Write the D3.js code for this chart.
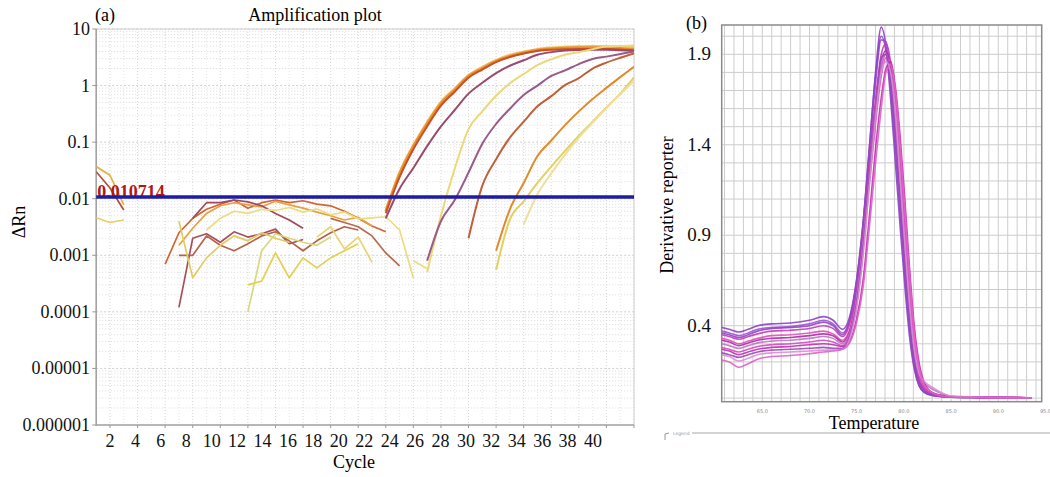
<!DOCTYPE html>
<html lang="en">
<head>
<meta charset="UTF-8">
<title>Amplification plot and melt curve</title>
<script src="https://d3js.org/d3.v7.min.js"></script>
<style>
  body { margin: 0; background: #fff; }
  svg { display: block; font-family: "Liberation Serif", "Times New Roman", serif; }
</style>
</head>
<body>
<svg width="1050" height="477"></svg>
<script>
// ---------- (a) amplification plot ----------
const cycleTicks = [2, 4, 6, 8, 10, 12, 14, 16, 18, 20, 22, 24, 26, 28, 30, 32, 34, 36, 38, 40];
const decadeTicks = [10, 1, 0.1, 0.01, 0.001, 0.0001, 0.00001, 0.000001];
const decadeLabels = ["10", "1", "0.1", "0.01", "0.001", "0.0001", "0.00001", "0.000001"];
const threshold = 0.010714;

// each trace: first cycle, then ΔRn per cycle
const ampStart = [22, 22, 22, 22, 25, 25, 28, 30, 30, 32];
const ampValues = [
  [0.0062, 0.03, 0.09, 0.23, 0.52, 0.9, 1.55, 2.15, 2.85, 3.5, 4.0, 4.45, 4.7, 4.85, 4.95, 5.0, 4.98, 4.9, 4.8],
  [0.006, 0.027, 0.083, 0.21, 0.48, 0.83, 1.46, 2.0, 2.7, 3.3, 3.8, 4.25, 4.45, 4.6, 4.68, 4.7, 4.68, 4.55, 4.35],
  [0.0055, 0.024, 0.075, 0.19, 0.44, 0.78, 1.38, 1.92, 2.6, 3.2, 3.7, 4.1, 4.3, 4.4, 4.45, 4.45, 4.42, 4.35, 4.2],
  [0.0045, 0.015, 0.035, 0.085, 0.19, 0.37, 0.72, 1.12, 1.66, 2.24, 2.8, 3.5, 3.9, 4.15, 4.25, 4.3, 4.3, 4.2, 4.1],
  [0.0005, 0.005, 0.034, 0.17, 0.35, 0.66, 1.1, 1.6, 2.3, 2.9, 3.5, 3.9, 4.4, 4.9, 5.0, 5.1],
  [0.0008, 0.004, 0.0095, 0.029, 0.094, 0.21, 0.39, 0.68, 1.0, 1.48, 1.86, 2.4, 2.95, 3.25, 3.6, 4.0],
  [0.002, 0.017, 0.05, 0.12, 0.23, 0.43, 0.65, 1.02, 1.35, 2.0, 2.55, 3.1, 3.7],
  [0.0012, 0.0065, 0.019, 0.057, 0.107, 0.2, 0.35, 0.58, 0.91, 1.41, 2.15],
  [0.00055, 0.0043, 0.009, 0.019, 0.037, 0.07, 0.13, 0.23, 0.41, 0.72, 1.4],
  [0.0035, 0.012, 0.028, 0.06, 0.12, 0.22, 0.4, 0.7, 1.2]
];
const ampColors = ["#f0c060", "#e8902a", "#c8502a", "#9a4a6e", "#ecd878", "#9a5a8a", "#c0603a", "#e08a2a", "#e4d060", "#eee09a"];

// baseline noise below threshold (broken where ΔRn <= 0)
const noiseStart = [6, 7, 8, 7, 7, 7, 12, 12, 9, 24, 17, 18, 1, 1, 1];
const noiseValues = [
  [0.0007, 0.0025, 0.0045, 0.0065, 0.008, 0.0095, 0.0068, 0.0085, 0.0095, 0.0085, 0.0092, 0.008, 0.0075, 0.006, 0.0045, 0.0033, 0.0026],
  [0.0015, 0.003, 0.0055, 0.0075, 0.0085, 0.0078, 0.0072, 0.009, 0.0078, 0.0068, 0.0058, 0.005, 0.0042, 0.0047, 0.0033],
  [0.0045, 0.0085, 0.0085, 0.0095, 0.0088, 0.0075, 0.0055, 0.0042, 0.003],
  [0.00012, 0.002, 0.0024, 0.0017, 0.0026, 0.0021, 0.0024, 0.0029, 0.0016, 0.0019],
  [0.001, 0.001, 0.0022, 0.0015, 0.0012, 0.0016, 0.0022, 0.0026, 0.0018, 0.0012, 0.0018, 0.0025, 0.0032, 0.0028],
  [0.004, 0.0004, 0.0009, 0.0015, 0.0022, 0.0018, 0.0025, 0.002, 0.0017],
  [0.0001, 0.0012, 0.0024, 0.002, 0.0017, 0.0015, 0.0021],
  [0.0003, 0.00035, 0.0011, 0.0004, 0.0009, 0.0006, 0.0009, 0.0012, 0.0016],
  [0.0028, 0.0045, 0.006, 0.0055, 0.0065, 0.0062, 0.007, 0.0058, 0.0066, 0.0052, 0.0058, 0.0044, 0.0046, 0.0048, 0.0028, 0.0004],
  [0.0008, 0.00058],
  [0.0021, 0.0032, 0.0013, 0.0021, 0.00075],
  [0.0045, 0.0038, 0.0032, 0.0022, 0.0011, 0.00065],
  [0.037, 0.026, 0.0078],
  [0.03, 0.0155, 0.0063],
  [0.0046, 0.0038, 0.0042]
];
const noiseColors = ["#d4652e", "#e8a040", "#a04a5a", "#a8505a", "#b8604a", "#e0cc60", "#d8d880", "#e4d050", "#ecdc80", "#ecdc80", "#e8d470", "#b86a50", "#e8b040", "#b05040", "#e8d060"];

// ---------- (b) melt curve ----------
const meltTemps = [60.7, 61.5, 62.5, 63.5, 64.5, 66, 68, 70, 71.5, 72.5, 73.5, 74.2, 75, 75.7, 76.3, 77, 77.6, 78.1, 78.6, 79.1, 79.6, 80.1, 80.6, 81.1, 81.6, 82.2, 83, 84, 85, 88, 93.5];
const meltCurves = [
  [0.39, 0.38, 0.365, 0.38, 0.40, 0.41, 0.415, 0.43, 0.45, 0.43, 0.38, 0.44, 0.66, 0.98, 1.35, 1.8, 2.05, 1.95, 1.7, 1.38, 1.02, 0.68, 0.38, 0.18, 0.07, 0.03, 0.015, 0.008, 0.005, 0.003, 0.002],
  [0.37, 0.36, 0.345, 0.36, 0.38, 0.39, 0.395, 0.41, 0.43, 0.41, 0.36, 0.42, 0.64, 0.96, 1.32, 1.74, 1.98, 1.97, 1.78, 1.45, 1.08, 0.72, 0.42, 0.2, 0.08, 0.035, 0.018, 0.01, 0.006, 0.003, 0.002],
  [0.36, 0.35, 0.335, 0.35, 0.37, 0.385, 0.39, 0.4, 0.42, 0.40, 0.35, 0.42, 0.65, 0.98, 1.36, 1.78, 2.0, 1.92, 1.65, 1.3, 0.95, 0.62, 0.34, 0.16, 0.07, 0.03, 0.015, 0.008, 0.005, 0.003, 0.002],
  [0.35, 0.34, 0.325, 0.34, 0.355, 0.37, 0.375, 0.385, 0.4, 0.385, 0.34, 0.4, 0.6, 0.92, 1.28, 1.65, 1.9, 1.96, 1.85, 1.55, 1.18, 0.8, 0.47, 0.22, 0.09, 0.04, 0.02, 0.01, 0.006, 0.004, 0.002],
  [0.33, 0.32, 0.3, 0.315, 0.33, 0.345, 0.35, 0.36, 0.37, 0.355, 0.32, 0.37, 0.55, 0.85, 1.2, 1.58, 1.82, 1.9, 1.85, 1.68, 1.35, 0.98, 0.62, 0.32, 0.15, 0.06, 0.025, 0.011, 0.006, 0.004, 0.002],
  [0.32, 0.31, 0.29, 0.305, 0.32, 0.33, 0.335, 0.345, 0.355, 0.345, 0.31, 0.36, 0.58, 0.9, 1.25, 1.62, 1.86, 1.92, 1.82, 1.55, 1.2, 0.84, 0.5, 0.24, 0.1, 0.05, 0.03, 0.015, 0.007, 0.004, 0.002],
  [0.30, 0.29, 0.275, 0.29, 0.305, 0.315, 0.32, 0.33, 0.34, 0.33, 0.3, 0.35, 0.56, 0.88, 1.22, 1.6, 1.85, 1.9, 1.78, 1.5, 1.15, 0.8, 0.48, 0.24, 0.12, 0.08, 0.05, 0.025, 0.01, 0.004, 0.002],
  [0.28, 0.27, 0.255, 0.27, 0.285, 0.295, 0.3, 0.31, 0.32, 0.31, 0.29, 0.34, 0.52, 0.82, 1.16, 1.52, 1.78, 1.88, 1.86, 1.65, 1.3, 0.92, 0.56, 0.28, 0.12, 0.055, 0.025, 0.012, 0.006, 0.004, 0.002],
  [0.27, 0.26, 0.24, 0.255, 0.27, 0.28, 0.285, 0.295, 0.3, 0.295, 0.285, 0.31, 0.44, 0.66, 0.98, 1.38, 1.66, 1.82, 1.86, 1.72, 1.45, 1.1, 0.72, 0.4, 0.2, 0.08, 0.03, 0.014, 0.007, 0.004, 0.002],
  [0.25, 0.24, 0.225, 0.24, 0.255, 0.265, 0.27, 0.275, 0.28, 0.275, 0.275, 0.33, 0.52, 0.84, 1.2, 1.58, 1.88, 1.9, 1.75, 1.45, 1.1, 0.75, 0.44, 0.21, 0.09, 0.04, 0.02, 0.01, 0.005, 0.003, 0.002],
  [0.24, 0.23, 0.205, 0.22, 0.24, 0.25, 0.255, 0.26, 0.265, 0.265, 0.27, 0.32, 0.5, 0.8, 1.15, 1.55, 1.8, 1.86, 1.8, 1.58, 1.22, 0.86, 0.52, 0.27, 0.14, 0.09, 0.06, 0.03, 0.012, 0.005, 0.002],
  [0.21, 0.2, 0.17, 0.19, 0.215, 0.23, 0.235, 0.245, 0.255, 0.26, 0.27, 0.3, 0.42, 0.62, 0.92, 1.3, 1.6, 1.8, 1.84, 1.7, 1.4, 1.05, 0.68, 0.36, 0.17, 0.07, 0.03, 0.012, 0.006, 0.004, 0.002]
];
const meltColors = ["#9040c8", "#a050d0", "#8a48c0", "#c838b8", "#e050b8", "#b02aa8", "#b878c8", "#d848c0", "#c030b0", "#9848b8", "#d890d0", "#e060c8"];
const meltXTicks = [65, 70, 75, 80, 85, 90, 95];
const meltYTicks = [1.9, 1.4, 0.9, 0.4];

const svg = d3.select("svg");
svg.append("rect").attr("width", 1050).attr("height", 477).attr("fill", "#fff");

// ===== panel (a) =====
const xA = d3.scaleLinear().domain([1, 40]).range([96.2, 634]);
const xLab = d3.scaleLinear().domain([2, 40]).range([110, 593]); // printed labels drift left of their ticks
const yA = d3.scaleLog().domain([0.000001, 10]).range([425, 29]);

const gA = svg.append("g");
gA.append("clipPath").attr("id", "clipA").append("rect")
  .attr("x", xA(1)).attr("y", yA(10)).attr("width", xA(40) - xA(1)).attr("height", yA(0.000001) - yA(10));

// grid
const minorLog = [];
for (let e = -6; e < 1; e++) for (let m = 2; m < 10; m++) minorLog.push(m * Math.pow(10, e));
gA.append("g").selectAll("line").data(minorLog).join("line")
  .attr("x1", xA(1)).attr("x2", xA(40)).attr("y1", d => yA(d)).attr("y2", d => yA(d))
  .attr("stroke", "#dcdcdc").attr("stroke-width", 1).attr("stroke-dasharray", "1,2");
gA.append("g").selectAll("line").data(decadeTicks).join("line")
  .attr("x1", xA(1)).attr("x2", xA(40)).attr("y1", d => yA(d)).attr("y2", d => yA(d))
  .attr("stroke", "#cfcfcf").attr("stroke-width", 1).attr("stroke-dasharray", "2,2");
gA.append("g").selectAll("line").data(d3.range(2, 41)).join("line")
  .attr("x1", d => xA(d)).attr("x2", d => xA(d)).attr("y1", yA(10)).attr("y2", yA(0.000001))
  .attr("stroke", d => d % 2 === 0 ? "#d6d6d6" : "#e6e6e6").attr("stroke-width", 1).attr("stroke-dasharray", "1,2");

// frame
gA.append("rect").attr("x", xA(1)).attr("y", yA(10)).attr("width", xA(40) - xA(1)).attr("height", yA(0.000001) - yA(10))
  .attr("fill", "none").attr("stroke", "#d0d0d0");
gA.append("line").attr("x1", xA(1)).attr("x2", xA(1)).attr("y1", yA(10)).attr("y2", yA(0.000001) + 1)
  .attr("stroke", "#a0a0a0").attr("stroke-width", 1.5);
gA.append("line").attr("x1", xA(1)).attr("x2", xA(40)).attr("y1", yA(0.000001)).attr("y2", yA(0.000001))
  .attr("stroke", "#a8a8a8").attr("stroke-width", 1.5);

// ticks
gA.append("g").selectAll("line").data(decadeTicks).join("line")
  .attr("x1", xA(1) - 4).attr("x2", xA(1)).attr("y1", d => yA(d)).attr("y2", d => yA(d))
  .attr("stroke", "#999");
gA.append("g").selectAll("line").data(cycleTicks).join("line")
  .attr("x1", d => xA(d)).attr("x2", d => xA(d)).attr("y1", yA(0.000001)).attr("y2", yA(0.000001) + 3)
  .attr("stroke", "#999");
gA.append("g").selectAll("text").data(decadeTicks).join("text")
  .attr("x", 90).attr("y", d => yA(d) + 6).attr("text-anchor", "end")
  .attr("font-size", 18).attr("fill", "#111").text((d, i) => decadeLabels[i]);
gA.append("g").selectAll("text").data(cycleTicks).join("text")
  .attr("x", d => xLab(d)).attr("y", 447).attr("text-anchor", "middle")
  .attr("font-size", 18).attr("fill", "#111").text(d => d);

// traces
const lineA = d3.line().x(d => xA(d[0])).y(d => yA(d[1])).defined(d => d[1] > 0);
const plotA = gA.append("g").attr("clip-path", "url(#clipA)");
plotA.selectAll(".noise").data(noiseValues).join("path").attr("class", "noise")
  .attr("d", (vals, i) => lineA(vals.map((v, j) => [noiseStart[i] + j, v])))
  .attr("fill", "none").attr("stroke", (d, i) => noiseColors[i]).attr("stroke-width", 1.7)
  .attr("stroke-linejoin", "round");
const lineAs = d3.line().x(d => xA(d[0])).y(d => yA(d[1])).curve(d3.curveMonotoneX);
plotA.selectAll(".amp").data(ampValues).join("path").attr("class", "amp")
  .attr("d", (vals, i) => lineAs(vals.map((v, j) => [ampStart[i] + j, v])))
  .attr("fill", "none").attr("stroke", (d, i) => ampColors[i])
  .attr("stroke-width", (d, i) => i === 1 ? 2.8 : 2);

// threshold
gA.append("text").attr("x", xA(1) + 1).attr("y", yA(threshold) + 1)
  .attr("font-size", 18).attr("font-weight", "bold").attr("fill", "#b01818").text(threshold);
gA.append("line").attr("x1", xA(1)).attr("x2", xA(40)).attr("y1", yA(threshold)).attr("y2", yA(threshold))
  .attr("stroke", "#1c1ca4").attr("stroke-width", 3.5);

// labels
gA.append("text").attr("x", 95).attr("y", 21).attr("font-size", 18).text("(a)");
gA.append("text").attr("x", 315).attr("y", 21).attr("text-anchor", "middle").attr("font-size", 18).text("Amplification plot");
gA.append("text").attr("x", 354).attr("y", 468).attr("text-anchor", "middle").attr("font-size", 18).text("Cycle");
gA.append("text").attr("transform", "translate(25,222) rotate(-90)").attr("text-anchor", "middle")
  .attr("font-size", 18).text("ΔRn");

// ===== panel (b) =====
const xB = d3.scaleLinear().domain([60.7, 94.6]).range([721.7, 1041.7]);
const yB = d3.scaleLinear().domain([-0.02, 2.062]).range([401.7, 25]);
const gB = svg.append("g");
gB.append("clipPath").attr("id", "clipB").append("rect")
  .attr("x", xB(60.7)).attr("y", yB(2.062)).attr("width", xB(94.6) - xB(60.7)).attr("height", yB(-0.02) - yB(2.062));

gB.append("g").selectAll("line").data(d3.range(61, 95)).join("line")
  .attr("x1", d => xB(d)).attr("x2", d => xB(d)).attr("y1", yB(2.062)).attr("y2", yB(-0.02))
  .attr("stroke", "#cdcdcd").attr("stroke-width", 1);
gB.append("g").selectAll("line").data(d3.range(0, 21).map(d => d / 10)).join("line")
  .attr("x1", xB(60.7)).attr("x2", xB(94.6)).attr("y1", d => yB(d)).attr("y2", d => yB(d))
  .attr("stroke", "#cdcdcd").attr("stroke-width", 1);
gB.append("rect").attr("x", xB(60.7)).attr("y", yB(2.062)).attr("width", xB(94.6) - xB(60.7)).attr("height", yB(-0.02) - yB(2.062))
  .attr("fill", "none").attr("stroke", "#8a8a8a").attr("stroke-width", 1.5);

const lineB = d3.line().x(d => xB(d[0])).y(d => yB(d[1])).curve(d3.curveMonotoneX);
gB.append("g").attr("clip-path", "url(#clipB)").selectAll("path").data(meltCurves).join("path")
  .attr("d", vals => lineB(vals.map((v, j) => [meltTemps[j], v])))
  .attr("fill", "none").attr("stroke", (d, i) => meltColors[i]).attr("stroke-width", 1.6)
  .attr("stroke-opacity", 0.9);

gB.append("g").selectAll("text").data(meltYTicks).join("text")
  .attr("x", 711).attr("y", d => yB(d) + 6).attr("text-anchor", "end")
  .attr("font-size", 19).attr("fill", "#111").text(d => d.toFixed(1));
gB.append("g").selectAll("text").data(meltXTicks).join("text")
  .attr("x", d => xB(d)).attr("y", 413).attr("text-anchor", "middle")
  .attr("font-family", "DejaVu Sans, sans-serif").attr("font-size", 5).attr("fill", "#888").text(d => d.toFixed(1));

gB.append("text").attr("x", 686).attr("y", 29).attr("font-size", 18).text("(b)");
gB.append("text").attr("x", 874).attr("y", 429).attr("text-anchor", "middle").attr("font-size", 18).text("Temperature");
gB.append("text").attr("transform", "translate(673,205) rotate(-90)").attr("text-anchor", "middle")
  .attr("font-size", 18).text("Derivative reporter");

// legend strip
gB.append("line").attr("x1", 692).attr("x2", 1050).attr("y1", 433).attr("y2", 433).attr("stroke", "#a8a8a8");
gB.append("text").attr("x", 673).attr("y", 434.5).attr("font-family", "DejaVu Sans, sans-serif")
  .attr("font-size", 4.5).attr("fill", "#999").text("Legend");
gB.append("path").attr("d", "M665,440 L665,434 L669,433").attr("fill", "none").attr("stroke", "#999");
</script>
</body>
</html>
